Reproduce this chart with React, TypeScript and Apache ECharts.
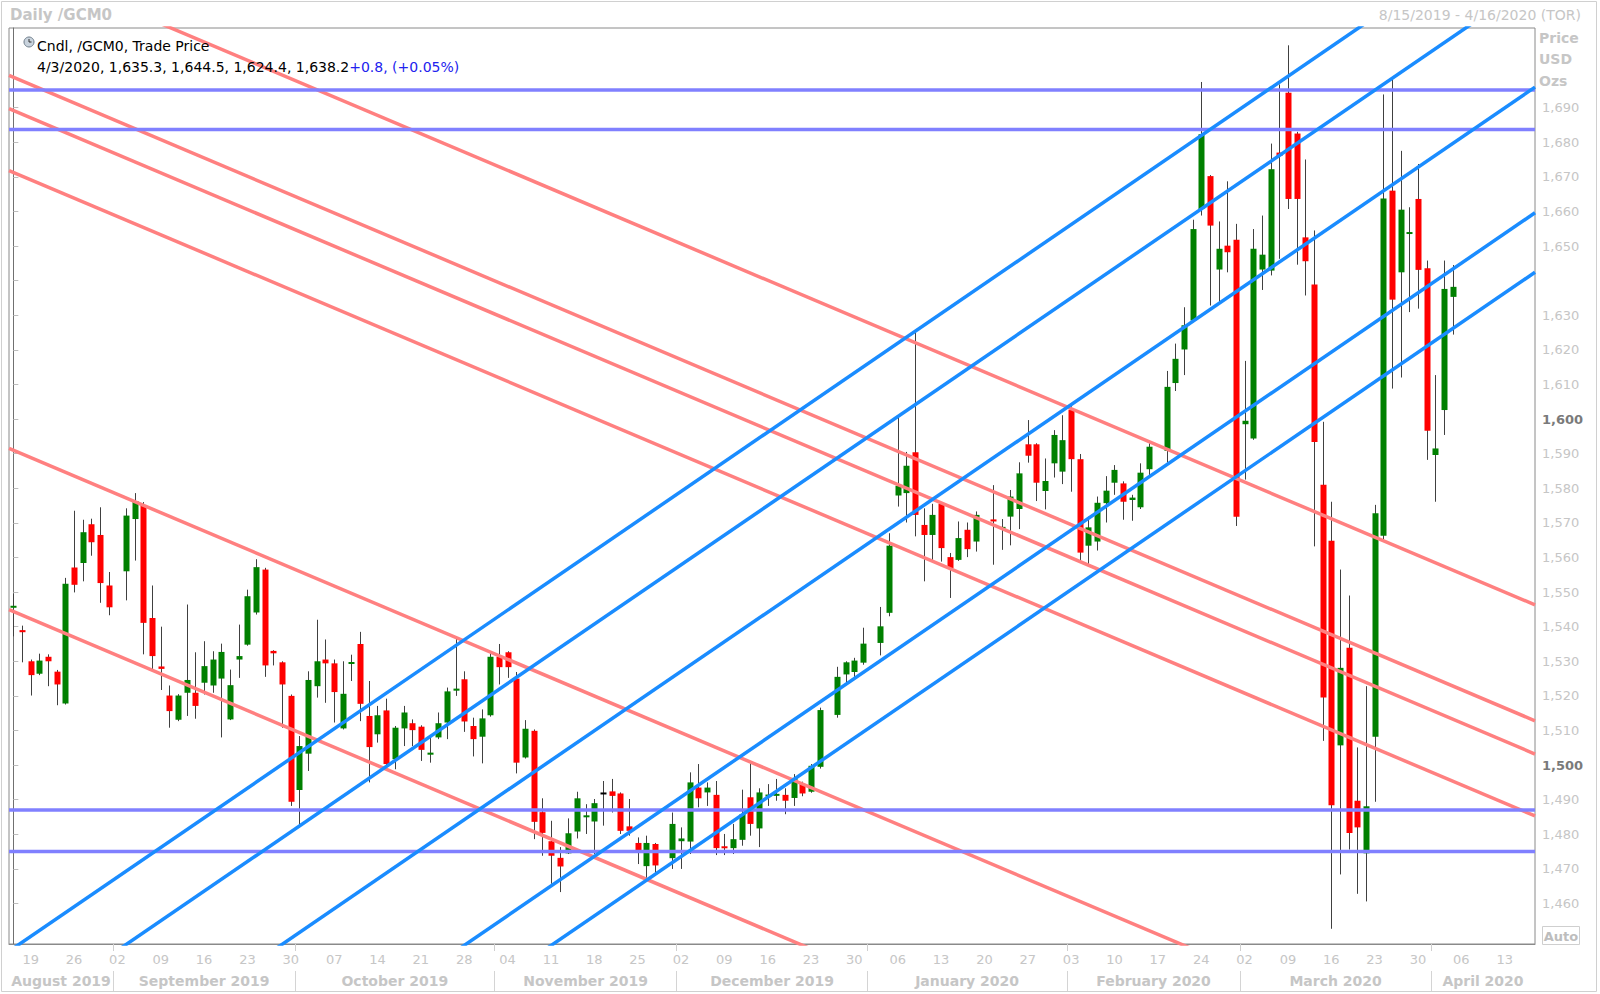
import React, { useEffect, useRef } from "react";
import * as echarts from "echarts";

// ---------------- data ----------------
const AXIS_START = "2019-08-15";
const AXIS_END = "2020-04-16";

const candleDates = [
  "2019-08-15","2019-08-16","2019-08-19","2019-08-20","2019-08-21","2019-08-22","2019-08-23","2019-08-26","2019-08-27","2019-08-28","2019-08-29","2019-08-30",
  "2019-09-03","2019-09-04","2019-09-05","2019-09-06","2019-09-09","2019-09-10","2019-09-11","2019-09-12","2019-09-13","2019-09-16","2019-09-17","2019-09-18","2019-09-19","2019-09-20","2019-09-23","2019-09-24","2019-09-25","2019-09-26","2019-09-27","2019-09-30",
  "2019-10-01","2019-10-02","2019-10-03","2019-10-04","2019-10-07","2019-10-08","2019-10-09","2019-10-10","2019-10-11","2019-10-14","2019-10-15","2019-10-16","2019-10-17","2019-10-18","2019-10-21","2019-10-22","2019-10-23","2019-10-24","2019-10-25","2019-10-28","2019-10-29","2019-10-30","2019-10-31",
  "2019-11-01","2019-11-04","2019-11-05","2019-11-06","2019-11-07","2019-11-08","2019-11-11","2019-11-12","2019-11-13","2019-11-14","2019-11-15","2019-11-18","2019-11-19","2019-11-20","2019-11-21","2019-11-22","2019-11-25","2019-11-26","2019-11-27","2019-11-29",
  "2019-12-02","2019-12-03","2019-12-04","2019-12-05","2019-12-06","2019-12-09","2019-12-10","2019-12-11","2019-12-12","2019-12-13","2019-12-16","2019-12-17","2019-12-18","2019-12-19","2019-12-20","2019-12-23","2019-12-24","2019-12-26","2019-12-27","2019-12-30","2019-12-31",
  "2020-01-02","2020-01-03","2020-01-06","2020-01-07","2020-01-08","2020-01-09","2020-01-10","2020-01-13","2020-01-14","2020-01-15","2020-01-16","2020-01-17","2020-01-21","2020-01-22","2020-01-23","2020-01-24","2020-01-27","2020-01-28","2020-01-29","2020-01-30","2020-01-31",
  "2020-02-03","2020-02-04","2020-02-05","2020-02-06","2020-02-07","2020-02-10","2020-02-11","2020-02-12","2020-02-13","2020-02-14","2020-02-18","2020-02-19","2020-02-20","2020-02-21","2020-02-24","2020-02-25","2020-02-26","2020-02-27","2020-02-28",
  "2020-03-02","2020-03-03","2020-03-04","2020-03-05","2020-03-06","2020-03-09","2020-03-10","2020-03-11","2020-03-12","2020-03-13","2020-03-16","2020-03-17","2020-03-18","2020-03-19","2020-03-20","2020-03-23","2020-03-24","2020-03-25","2020-03-26","2020-03-27","2020-03-30","2020-03-31",
  "2020-04-01","2020-04-02","2020-04-03",
];

const openPrices = [
  1545.5,1539.0,1530.0,1526.4,1531.3,1527.0,1517.8,1557.1,1558.4,1569.6,1566.5,1551.9,
  1556.0,1571.1,1575.0,1542.5,1528.5,1520.1,1513.1,1520.9,1520.9,1523.8,1523.0,1525.0,1513.2,1530.5,1534.8,1544.1,1556.5,1533.0,1529.7,1520.0,
  1492.8,1503.3,1522.8,1530.5,1529.4,1510.6,1529.3,1535.0,1514.2,1508.9,1515.8,1501.7,1510.6,1512.1,1511.1,1503.0,1508.0,1512.3,1521.5,1524.8,1511.3,1508.2,1514.4,
  1531.3,1532.6,1525.0,1502.2,1509.9,1486.4,1478.0,1473.2,1474.5,1480.8,1485.0,1483.7,1491.8,1492.4,1491.8,1482.3,1477.5,1470.8,1477.2,1473.1,
  1478.0,1477.9,1493.5,1492.1,1491.4,1476.5,1476.0,1478.4,1490.7,1481.7,1491.0,1491.2,1491.4,1490.5,1494.5,1492.3,1499.5,1514.5,1526.2,1526.9,1529.6,
  1535.3,1544.0,1577.9,1578.6,1590.4,1569.4,1566.5,1575.5,1560.1,1559.3,1568.0,1564.6,1571.0,1568.3,1571.8,1574.0,1592.7,1592.7,1579.2,1587.2,1584.8,
  1602.6,1588.4,1563.4,1564.6,1575.7,1581.6,1581.4,1576.6,1574.5,1585.5,1590.8,1610.4,1620.1,1628.5,1660.7,1670.2,1643.2,1650.1,1651.8,
  1598.5,1594.4,1643.2,1642.9,1677.0,1694.3,1682.5,1652.5,1638.9,1581.0,1564.8,1505.7,1533.9,1489.7,1474.5,1508.2,1566.3,1666.0,1642.4,1653.5,1663.6,1643.6,
  1589.6,1602.6,1635.3,
];

const highPrices = [
  1549.5,1540.3,1530.5,1532.2,1532.0,1527.5,1554.1,1573.5,1570.9,1571.2,1574.5,1555.8,
  1574.2,1578.6,1576.0,1551.9,1540.0,1523.0,1520.5,1546.4,1532.6,1535.8,1532.9,1535.1,1527.6,1540.6,1550.7,1559.5,1557.0,1533.2,1530.0,1520.4,
  1508.4,1527.1,1542.0,1536.3,1530.5,1530.0,1531.9,1538.5,1524.3,1517.1,1519.2,1511.3,1517.1,1513.2,1511.5,1508.0,1515.2,1522.4,1537.1,1527.1,1513.7,1516.1,1532.9,
  1535.0,1532.9,1526.9,1513.0,1510.3,1490.4,1483.9,1476.3,1484.6,1492.3,1488.7,1490.2,1495.4,1496.0,1492.1,1490.2,1479.1,1479.6,1477.5,1486.3,
  1482.0,1497.9,1500.3,1495.0,1495.4,1480.1,1483.0,1492.9,1501.2,1493.3,1494.5,1496.0,1493.3,1497.4,1495.2,1500.3,1516.6,1528.4,1530.0,1531.0,1539.7,
  1545.7,1567.0,1600.5,1590.5,1625.0,1574.2,1575.5,1576.0,1561.3,1570.4,1570.1,1573.3,1580.9,1571.1,1579.5,1587.5,1599.7,1593.0,1588.6,1596.8,1601.1,
  1603.7,1589.9,1571.8,1577.6,1583.5,1586.7,1582.0,1578.1,1587.2,1593.0,1613.9,1621.8,1632.3,1657.6,1697.4,1670.5,1657.1,1668.7,1656.4,
  1616.8,1654.9,1658.8,1679.6,1696.7,1708.0,1683.0,1675.0,1654.5,1599.2,1576.1,1556.5,1549.0,1505.1,1522.8,1575.2,1693.8,1698.2,1677.5,1661.2,1673.7,1645.8,
  1612.7,1645.8,1644.5,
];

const lowPrices = [
  1537.2,1529.7,1520.1,1526.0,1522.8,1517.3,1517.5,1549.9,1553.1,1560.5,1546.9,1543.3,
  1547.6,1559.1,1532.0,1526.9,1521.7,1510.8,1512.7,1514.2,1513.4,1520.4,1520.9,1508.0,1513.0,1525.2,1534.5,1543.5,1525.5,1528.8,1510.8,1488.2,
  1482.0,1498.3,1519.5,1518.0,1512.3,1510.3,1524.3,1512.7,1495.0,1506.5,1500.0,1498.8,1505.5,1505.5,1501.2,1500.7,1507.5,1507.5,1520.0,1509.6,1502.5,1500.5,1514.0,
  1523.3,1525.2,1497.6,1501.9,1478.6,1473.8,1465.7,1463.3,1474.3,1478.8,1480.1,1474.3,1482.5,1486.3,1480.1,1479.6,1471.4,1467.0,1468.1,1470.0,
  1470.0,1474.3,1487.8,1488.2,1474.0,1474.0,1474.3,1476.7,1479.6,1476.3,1488.2,1489.7,1485.8,1488.2,1491.0,1492.0,1499.0,1513.7,1523.6,1525.2,1529.0,
  1531.7,1543.0,1574.7,1570.1,1566.1,1553.1,1559.3,1558.8,1548.3,1559.0,1560.1,1561.7,1557.9,1562.2,1563.5,1568.2,1587.4,1576.3,1573.9,1583.1,1581.2,
  1579.0,1559.1,1557.9,1562.0,1570.1,1578.1,1570.9,1570.6,1574.0,1583.3,1587.4,1608.1,1612.7,1628.0,1658.8,1632.8,1633.8,1642.4,1569.1,
  1582.5,1594.0,1637.3,1641.5,1646.3,1660.7,1644.6,1635.7,1563.2,1507.0,1452.7,1468.4,1475.6,1462.8,1460.6,1489.4,1565.0,1608.8,1612.0,1630.9,1631.9,1588.2,
  1576.1,1595.4,1624.4,
];

const closePrices = [
  1546.0,1538.4,1526.0,1530.2,1530.0,1523.3,1552.4,1552.1,1567.3,1564.4,1552.6,1545.6,
  1572.1,1576.3,1541.1,1531.5,1527.8,1515.6,1520.1,1524.6,1517.1,1528.6,1530.5,1532.7,1523.1,1531.5,1548.8,1557.2,1528.8,1532.3,1523.3,1489.4,
  1505.5,1524.6,1530.0,1529.4,1521.1,1520.6,1529.7,1517.7,1505.2,1514.4,1500.3,1510.8,1515.2,1510.1,1504.4,1503.6,1512.1,1521.3,1522.1,1512.6,1507.5,1513.5,1531.3,
  1528.3,1528.3,1500.7,1510.5,1483.6,1480.4,1473.8,1470.7,1480.3,1490.4,1485.4,1489.0,1491.8,1491.1,1481.0,1481.0,1474.6,1477.5,1471.0,1483.0,
  1478.8,1495.0,1490.4,1493.5,1476.0,1476.0,1478.6,1485.8,1483.0,1492.1,1491.4,1491.6,1489.7,1496.3,1491.8,1499.8,1515.9,1525.5,1529.7,1530.2,1535.1,
  1540.1,1563.4,1580.7,1586.5,1572.3,1566.5,1572.3,1562.7,1556.9,1565.6,1562.4,1572.3,1570.4,1568.8,1577.6,1584.3,1589.4,1581.6,1582.1,1595.4,1593.9,
  1588.4,1561.4,1568.7,1575.8,1579.3,1585.3,1576.1,1577.3,1584.5,1592.0,1609.3,1617.4,1627.1,1654.9,1682.3,1655.9,1649.2,1648.2,1571.8,
  1599.5,1649.2,1647.5,1672.2,1676.0,1663.6,1663.6,1645.6,1593.4,1519.5,1488.4,1528.1,1480.4,1482.0,1488.1,1572.8,1663.7,1634.5,1660.5,1654.0,1643.1,1596.6,
  1591.5,1637.6,1638.2,
];

// horizontal support / resistance levels (price)
const horizontalLevels = [1695.1, 1683.7, 1487.0, 1475.0];

// trend lines: [startSlot, startPrice, endSlot, endPrice] (slot = weekday index on the axis)
const blueTrendLines = [
  [-0.5, 1446.2, 175.5, 1747.9],
  [-0.5, 1425.0, 175.5, 1726.7],
  [-0.5, 1394.2, 175.5, 1695.9],
  [-0.5, 1357.9, 175.5, 1659.6],
  [-0.5, 1340.7, 175.5, 1642.4],
];
const redTrendLines = [
  [-0.5, 1732.8, 175.5, 1546.3],
  [-0.5, 1699.3, 175.5, 1512.8],
  [-0.5, 1689.7, 175.5, 1503.2],
  [-0.5, 1671.8, 175.5, 1485.3],
  [-0.5, 1591.5, 175.5, 1405.0],
  [-0.5, 1544.9, 175.5, 1358.4],
];

const priceTicks = [1460,1470,1480,1490,1500,1510,1520,1530,1540,1550,1560,1570,1580,1590,1600,1610,1620,1630,1640,1650,1660,1670,1680,1690];
// 1,640 sits behind the last-price box in the reference
const priceLabels = [1460,1470,1480,1490,1500,1510,1520,1530,1540,1550,1560,1570,1580,1590,1600,1610,1620,1630,1650,1660,1670,1680,1690];
const boldPriceTicks = [1500, 1600];
const MONTH_NAMES = ["January","February","March","April","May","June","July","August","September","October","November","December"];

const lastQuote = { date: "4/3/2020", open: "1,635.3", high: "1,644.5", low: "1,624.4", close: "1,638.2", change: "+0.8", pct: "(+0.05%)" };

// ---------------- axis helpers ----------------
function parseUTC(s: string) {
  const [y, m, d] = s.split("-").map(Number);
  return new Date(Date.UTC(y, m - 1, d));
}
function fmtDate(d: Date) {
  const y = d.getUTCFullYear();
  const m = String(d.getUTCMonth() + 1).padStart(2, "0");
  const dd = String(d.getUTCDate()).padStart(2, "0");
  return `${y}-${m}-${dd}`;
}
const weekdays: string[] = [];
{
  const d = parseUTC(AXIS_START);
  const end = parseUTC(AXIS_END);
  while (d.getTime() <= end.getTime()) {
    const wd = d.getUTCDay();
    if (wd !== 0 && wd !== 6) weekdays.push(fmtDate(d));
    d.setUTCDate(d.getUTCDate() + 1);
  }
}
const slotIndex: Record<string, number> = {};
weekdays.forEach((d, i) => (slotIndex[d] = i));
const X_MIN = -0.5;
const X_MAX = weekdays.length - 0.5;

const mondaySlots: number[] = [];
weekdays.forEach((d, i) => {
  if (parseUTC(d).getUTCDay() === 1) mondaySlots.push(i);
});

const monthBoundaries: number[] = [];
const monthCenters: number[] = [];
const monthLabelByCenter: Record<string, string> = {};
{
  let start = 0;
  for (let i = 1; i <= weekdays.length; i++) {
    const prev = weekdays[i - 1].slice(0, 7);
    const cur = i < weekdays.length ? weekdays[i].slice(0, 7) : null;
    if (cur !== prev) {
      const c = (start - 0.5 + (i - 0.5)) / 2;
      monthCenters.push(c);
      const [y, m] = prev.split("-").map(Number);
      monthLabelByCenter[c.toFixed(2)] = `${MONTH_NAMES[m - 1]} ${y}`;
      if (i < weekdays.length) monthBoundaries.push(i - 0.5);
      start = i;
    }
  }
}

const FONT = "DejaVu Sans";
const GRAY = "#c6c6c6";

export default function App() {
  const ref = useRef<HTMLDivElement>(null);

  useEffect(() => {
    if (!ref.current) return;
    const chart = echarts.init(ref.current, undefined, { renderer: "svg" });

    const candleData = candleDates.map((d, k) => [
      slotIndex[d], openPrices[k], closePrices[k], lowPrices[k], highPrices[k],
    ]);

    const lineSeries = (pts: number[], color: string, extra: any = {}) => ({
      type: "line",
      xAxisIndex: 0,
      yAxisIndex: 0,
      data: [[pts[0], pts[1]], [pts[2], pts[3]]],
      symbol: "none",
      silent: true,
      clip: true,
      z: 3,
      lineStyle: { color, width: 3.5 },
      ...extra,
    });

    const lastClose = closePrices[closePrices.length - 1];

    const series: any[] = [
      {
        type: "custom",
        xAxisIndex: 0,
        yAxisIndex: 0,
        clip: true,
        z: 2,
        data: candleData,
        encode: { x: 0, y: [1, 2, 3, 4] },
        renderItem: (params: any, api: any) => {
          const x = api.value(0);
          const o = api.value(1);
          const c = api.value(2);
          const l = api.value(3);
          const h = api.value(4);
          const pO = api.coord([x, o]);
          const pC = api.coord([x, c]);
          const pL = api.coord([x, l]);
          const pH = api.coord([x, h]);
          const w = Math.max(3, Math.round(api.size([1, 0])[0] * 0.7));
          const cx = Math.round(pO[0]);
          const top = Math.min(pO[1], pC[1]);
          const bot = Math.max(pO[1], pC[1]);
          let hgt = bot - top;
          let y0 = top;
          if (hgt < 2) {
            y0 = (top + bot) / 2 - 1;
            hgt = 2;
          }
          const color = c > o ? "#008000" : c < o ? "#ff0000" : "#000000";
          return {
            type: "group",
            children: [
              {
                type: "line",
                shape: { x1: cx + 0.5, y1: pH[1], x2: cx + 0.5, y2: pL[1] },
                style: { stroke: "#404040", lineWidth: 1 },
              },
              {
                type: "rect",
                shape: { x: cx - Math.floor(w / 2) + 0.5, y: y0, width: w, height: hgt },
                style: { fill: color, stroke: null },
              },
            ],
          };
        },
      },
    ];

    redTrendLines.forEach((l) => series.push(lineSeries(l, "#ff8080")));
    horizontalLevels.forEach((v) =>
      series.push(lineSeries([X_MIN, v, X_MAX, v], "#8080ff"))
    );
    blueTrendLines.forEach((l, k) =>
      series.push(
        lineSeries(l, "#1a8cff", k === 0
          ? {
              markLine: {
                silent: true,
                symbol: "none",
                lineStyle: { opacity: 0 },
                data: [{ yAxis: lastClose }],
                label: {
                  show: true,
                  position: "end",
                  distance: 0,
                  formatter: lastQuote.close,
                  backgroundColor: "#000",
                  color: "#fff",
                  fontFamily: FONT,
                  fontWeight: "bold",
                  fontSize: 13,
                  padding: [3, 4, 2, 4],
                },
              },
            }
          : {})
      )
    );

    const option: any = {
      animation: false,
      backgroundColor: "#ffffff",
      grid: {
        left: 9,
        right: 65,
        top: 28,
        bottom: 50,
        show: true,
        borderColor: "#8a8a8a",
        borderWidth: 1,
        backgroundColor: "transparent",
      },
      xAxis: [
        {
          type: "value",
          min: X_MIN,
          max: X_MAX,
          position: "bottom",
          splitLine: { show: false },
          axisLine: { show: true, lineStyle: { color: "#8a8a8a" } },
          axisTick: {
            show: true,
            customValues: monthBoundaries,
            length: 7,
            lineStyle: { color: "#cfcfcf" },
          },
          axisLabel: {
            show: true,
            customValues: mondaySlots,
            margin: 9,
            color: GRAY,
            fontFamily: FONT,
            fontSize: 13,
            formatter: (v: number) => {
              const d = weekdays[Math.round(v)];
              return d ? d.slice(8, 10) : "";
            },
          },
        },
        {
          type: "value",
          min: X_MIN,
          max: X_MAX,
          position: "bottom",
          offset: 27,
          splitLine: { show: false },
          axisLine: { show: false },
          axisTick: {
            show: true,
            customValues: monthBoundaries,
            length: 21,
            lineStyle: { color: "#d4d4d4" },
          },
          axisLabel: {
            show: true,
            customValues: monthCenters,
            margin: 3,
            color: GRAY,
            fontFamily: FONT,
            fontSize: 14,
            fontWeight: "bold",
            formatter: (v: number) => monthLabelByCenter[v.toFixed(2)] || "",
          },
        },
      ],
      yAxis: [
        {
          type: "value",
          position: "right",
          min: 1448.3,
          max: 1713,
          splitLine: { show: false },
          axisLine: { show: true, lineStyle: { color: "#707070" } },
          axisTick: {
            show: true,
            customValues: priceTicks,
            length: 5,
            lineStyle: { color: "#bdbdbd" },
          },
          axisLabel: {
            show: true,
            customValues: priceLabels,
            margin: 7,
            fontFamily: FONT,
            fontSize: 13,
            color: GRAY,
            formatter: (v: number) => {
              if (!priceLabels.includes(v)) return "";
              const s = v.toLocaleString("en-US");
              return boldPriceTicks.includes(v) ? `{b|${s}}` : `{n|${s}}`;
            },
            rich: {
              n: { color: GRAY, fontFamily: FONT, fontSize: 13 },
              b: { color: "#7a7a7a", fontFamily: FONT, fontSize: 13, fontWeight: "bold" },
            },
          },
        },
      ],
      series,
      graphic: [
        {
          type: "rect",
          z: 100,
          silent: true,
          shape: { x: 1.5, y: 1.5, width: 1595, height: 990 },
          style: { fill: "none", stroke: "#d0d0d0", lineWidth: 1 },
        },
        {
          type: "text",
          z: 100,
          x: 10,
          y: 15,
          style: { text: "Daily /GCM0", fill: GRAY, fontFamily: FONT, fontSize: 15, fontWeight: "bold", verticalAlign: "middle" },
        },
        {
          type: "text",
          z: 100,
          x: 1581,
          y: 15,
          style: { text: "8/15/2019 - 4/16/2020 (TOR)", fill: GRAY, fontFamily: FONT, fontSize: 14, align: "right", verticalAlign: "middle" },
        },
        {
          type: "text",
          z: 100,
          x: 1539,
          y: 38,
          style: { text: "Price", fill: GRAY, fontFamily: FONT, fontSize: 14, fontWeight: "bold", verticalAlign: "middle" },
        },
        {
          type: "text",
          z: 100,
          x: 1539,
          y: 59,
          style: { text: "USD", fill: GRAY, fontFamily: FONT, fontSize: 14, fontWeight: "bold", verticalAlign: "middle" },
        },
        {
          type: "text",
          z: 100,
          x: 1539,
          y: 81,
          style: { text: "Ozs", fill: GRAY, fontFamily: FONT, fontSize: 14, fontWeight: "bold", verticalAlign: "middle" },
        },
        {
          type: "circle",
          z: 100,
          shape: { cx: 29, cy: 42, r: 5 },
          style: { fill: "#c9d3dd", stroke: "#6d7c8a", lineWidth: 1 },
        },
        {
          type: "polyline",
          z: 101,
          shape: { points: [[29, 39], [29, 42], [31.5, 42]] },
          style: { fill: "none", stroke: "#333", lineWidth: 1 },
        },
        {
          type: "text",
          z: 100,
          x: 37,
          y: 46,
          style: { text: "Cndl, /GCM0, Trade Price", fill: "#000", fontFamily: FONT, fontSize: 14, verticalAlign: "middle" },
        },
        {
          type: "text",
          z: 100,
          x: 37,
          y: 67,
          style: {
            text: `{a|${lastQuote.date}, ${lastQuote.open}, ${lastQuote.high}, ${lastQuote.low}, ${lastQuote.close}}{b|${lastQuote.change}, ${lastQuote.pct}}`,
            verticalAlign: "middle",
            rich: {
              a: { fill: "#000", color: "#000", fontFamily: FONT, fontSize: 14 },
              b: { fill: "#2222ee", color: "#2222ee", fontFamily: FONT, fontSize: 14 },
            },
          },
        },
        {
          type: "rect",
          z: 100,
          shape: { x: 1542.5, y: 926.5, width: 37, height: 18 },
          style: { fill: "#fff", stroke: "#cfcfcf", lineWidth: 1 },
        },
        {
          type: "text",
          z: 101,
          x: 1561,
          y: 936,
          style: { text: "Auto", fill: "#bdbdbd", fontFamily: FONT, fontSize: 13, fontWeight: "bold", align: "center", verticalAlign: "middle" },
        },
      ],
    };

    chart.setOption(option);
    return () => chart.dispose();
  }, []);

  return (
    <div
      ref={ref}
      style={{ position: "fixed", left: 0, top: 0, width: 1600, height: 994, background: "#fff" }}
    />
  );
}
